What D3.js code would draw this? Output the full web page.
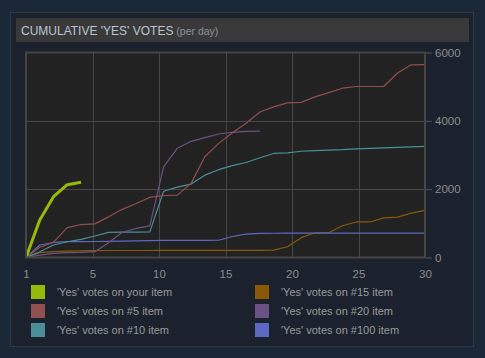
<!DOCTYPE html>
<html><head><meta charset="utf-8">
<script src="https://cdn.jsdelivr.net/npm/d3@7"></script>
<style>
html,body{margin:0;padding:0;background:#1b2838;}
svg{display:block;font-family:"Liberation Sans",Arial,sans-serif;}
</style></head>
<body>
<svg id="c" width="485" height="358"></svg>
<script>
const days = d3.range(1, 31);
const xTickLabels = ["1","5","10","15","20","25","30"];
const yTicks = [0, 2000, 4000, 6000];
const seriesNames = ["'Yes' votes on your item","'Yes' votes on #5 item","'Yes' votes on #10 item","'Yes' votes on #15 item","'Yes' votes on #20 item","'Yes' votes on #100 item"];
const seriesColors = ["#96ba0a","#914f4f","#4a8f97","#8a5809","#6a5283","#5b69c2"];
const yourItem = [0, 1100, 1780, 2130, 2200];
const item5 = [0, 300, 450, 875, 965, 985, 1190, 1410, 1580, 1760, 1815, 1825, 2170, 2950, 3340, 3650, 3930, 4260, 4410, 4525, 4540, 4700, 4825, 4955, 5005, 5005, 5005, 5400, 5640, 5645];
const item10 = [0, 170, 365, 460, 530, 630, 735, 745, 745, 750, 1940, 2060, 2150, 2410, 2570, 2690, 2780, 2920, 3045, 3065, 3110, 3130, 3140, 3155, 3180, 3195, 3210, 3225, 3240, 3250];
const item15 = [0, 140, 170, 185, 195, 200, 205, 205, 205, 205, 210, 210, 210, 210, 210, 210, 210, 210, 215, 315, 580, 725, 725, 930, 1040, 1040, 1160, 1180, 1300, 1380];
const item20 = [0, 70, 120, 140, 150, 170, 430, 740, 850, 925, 2650, 3200, 3400, 3510, 3615, 3665, 3690, 3700];
const item100 = [0, 365, 440, 462, 465, 468, 472, 478, 485, 495, 500, 502, 502, 502, 505, 615, 685, 705, 710, 715, 716, 716, 716, 716, 716, 716, 716, 716, 716, 716];
const seriesData = [yourItem, item5, item10, item15, item20, item100];

const svg = d3.select("#c");
// panel
svg.append("rect").attr("x",10.5).attr("y",12.5).attr("width",463).attr("height",334)
  .attr("fill","#1b222d").attr("stroke","#2e3946").attr("stroke-width",1);
// title bar
svg.append("rect").attr("x",16).attr("y",18).attr("width",453).attr("height",24).attr("fill","#393939");
const title = svg.append("text").attr("x",21).attr("y",34.5).attr("font-size",12).attr("fill","#b9c6d1");
title.append("tspan").text("CUMULATIVE 'YES' VOTES");
title.append("tspan").attr("font-size",10.5).attr("fill","#8a939b").text(" (per day)");

const L=26, R=425, T=52.5, B=257.5;
const x = d3.scaleLinear().domain([1,30]).range([L,R]);
const y = d3.scaleLinear().domain([0,6000]).range([B,T]);

svg.append("rect").attr("x",L).attr("y",T).attr("width",R-L).attr("height",B-T).attr("fill","#222222");

const xTickVals = xTickLabels.map((t,i)=>1+i*29/6);
const g = svg.append("g");
g.selectAll(".vg").data(xTickVals.slice(1,-1)).join("line")
  .attr("x1",d=>Math.round(x(d))+0.5).attr("x2",d=>Math.round(x(d))+0.5).attr("y1",T).attr("y2",B)
  .attr("stroke","#474747").attr("stroke-width",1);
g.selectAll(".hg").data(yTicks.slice(1,-1)).join("line")
  .attr("y1",d=>Math.round(y(d))+0.5).attr("y2",d=>Math.round(y(d))+0.5).attr("x1",L).attr("x2",R)
  .attr("stroke","#474747").attr("stroke-width",1);

svg.append("clipPath").attr("id","clip").append("rect").attr("x",L).attr("y",T-2).attr("width",R-L).attr("height",B-T+2);

const line = d3.line().x((d,i)=>x(i+1)).y(d=>y(d));
const order = [3,5,2,4,1,0];
order.forEach(k=>{
  svg.append("path").datum(seriesData[k]).attr("d",line)
    .attr("fill","none").attr("stroke",seriesColors[k])
    .attr("stroke-width", k===0?3:1.2).attr("stroke-linejoin","round")
    .attr("clip-path","url(#clip)");
});

// border
svg.append("rect").attr("x",L).attr("y",T).attr("width",R-L).attr("height",B-T)
  .attr("fill","none").attr("stroke","#454545").attr("stroke-width",2);

// right axis
const yAxis = d3.axisRight(y).tickValues(yTicks).tickSize(6).tickPadding(3).tickFormat(d3.format("d"));
const ya = svg.append("g").attr("transform",`translate(${R+1},0)`).call(yAxis);
ya.select(".domain").remove();
ya.selectAll(".tick line").attr("stroke","#555");
ya.selectAll(".tick text").attr("fill","#8c8c8c").attr("font-size",11.5).attr("font-family","Liberation Sans, Arial, sans-serif");

// bottom axis
const xAxis = d3.axisBottom(x).tickValues(xTickVals).tickSize(0).tickPadding(12).tickFormat((d,i)=>xTickLabels[i]);
const xa = svg.append("g").attr("transform",`translate(0,${B})`).call(xAxis);
xa.select(".domain").remove();
xa.selectAll(".tick text").attr("fill","#8c8c8c").attr("font-size",11.5).attr("font-family","Liberation Sans, Arial, sans-serif");

// legend
const leg = svg.append("g");
seriesNames.forEach((n,i)=>{
  const col = i<3?0:1, row=i%3;
  const lx = col===0?31:255, ly = 285+row*19;
  leg.append("rect").attr("x",lx).attr("y",ly).attr("width",14).attr("height",14).attr("fill",seriesColors[i]);
  leg.append("text").attr("x",lx+26).attr("y",ly+11).attr("font-size",11).attr("fill","#9a9a9a").text(n);
});
</script>
</body></html>
